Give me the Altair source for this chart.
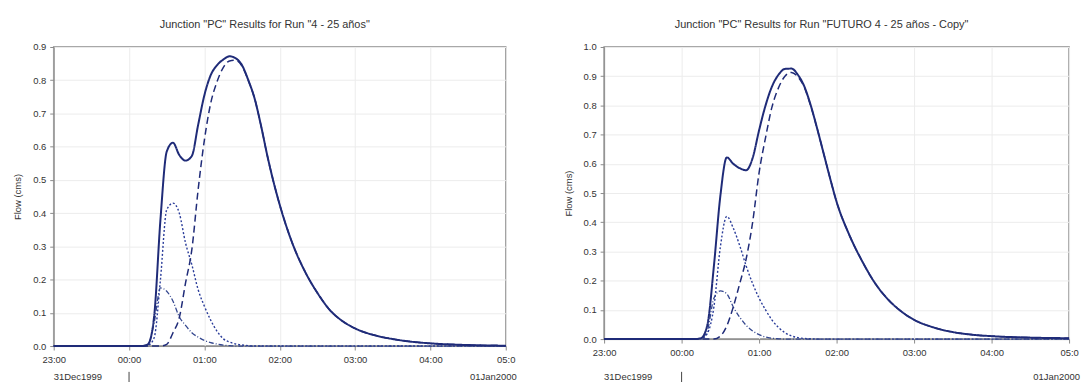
import altair as alt
import pandas as pd

# minutes after 31Dec1999 23:00
MINUTES = [0, 60, 70, 75, 80, 85, 90, 95, 100, 105, 110, 115, 120, 125, 130, 135,
           140, 145, 150, 155, 160, 165, 170, 175, 180, 190, 200, 210, 220, 230,
           240, 255, 270, 285, 300, 330, 360]

# Left chart: Run "4 - 25 años"
L_OUTFLOW = [0, 0, 0, 0.005, 0.09, 0.38, 0.585, 0.612, 0.575, 0.558, 0.572, 0.665,
             0.755, 0.815, 0.845, 0.862, 0.872, 0.866, 0.845, 0.80, 0.745, 0.665,
             0.575, 0.495, 0.425, 0.31, 0.225, 0.16, 0.108, 0.075, 0.053, 0.033,
             0.021, 0.013, 0.008, 0.003, 0.001]
L_SMALL = [0, 0, 0, 0.005, 0.07, 0.175, 0.165, 0.135, 0.088, 0.062, 0.04, 0.027,
           0.017, 0.01, 0.006, 0.003, 0.001, 0, 0, 0, 0, 0, 0, 0, 0, 0, 0, 0, 0,
           0, 0, 0, 0, 0, 0, 0, 0]
L_DOTTED = [0, 0, 0, 0.002, 0.025, 0.2, 0.41, 0.43, 0.40, 0.31, 0.245, 0.17, 0.12,
            0.078, 0.045, 0.022, 0.012, 0.006, 0.003, 0.001, 0, 0, 0, 0, 0, 0, 0,
            0, 0, 0, 0, 0, 0, 0, 0, 0, 0]
L_DASHED = [0, 0, 0, 0, 0, 0, 0.005, 0.04, 0.085, 0.19, 0.29, 0.47, 0.62, 0.73,
            0.795, 0.838, 0.858, 0.86, 0.842, 0.799, 0.745, 0.665, 0.575, 0.495,
            0.425, 0.31, 0.225, 0.16, 0.108, 0.075, 0.053, 0.033, 0.021, 0.013,
            0.008, 0.003, 0.001]

# Right chart: Run "FUTURO 4 - 25 años - Copy"
R_OUTFLOW = [0, 0, 0, 0.003, 0.05, 0.25, 0.49, 0.622, 0.60, 0.585, 0.578, 0.62,
             0.715, 0.80, 0.865, 0.905, 0.925, 0.926, 0.905, 0.865, 0.80, 0.72,
             0.635, 0.55, 0.47, 0.355, 0.265, 0.19, 0.135, 0.095, 0.066, 0.04,
             0.024, 0.015, 0.01, 0.005, 0.003]
R_SMALL = [0, 0, 0, 0.002, 0.03, 0.14, 0.165, 0.155, 0.11, 0.075, 0.047, 0.028,
           0.015, 0.007, 0.003, 0.001, 0, 0, 0, 0, 0, 0, 0, 0, 0, 0, 0, 0, 0, 0,
           0, 0, 0, 0, 0, 0, 0]
R_DOTTED = [0, 0, 0, 0.001, 0.02, 0.11, 0.315, 0.42, 0.38, 0.32, 0.25, 0.19, 0.14,
            0.10, 0.065, 0.04, 0.022, 0.011, 0.005, 0.002, 0.001, 0, 0, 0, 0, 0,
            0, 0, 0, 0, 0, 0, 0, 0, 0, 0, 0]
R_DASHED = [0, 0, 0, 0, 0, 0, 0.01, 0.045, 0.11, 0.19, 0.275, 0.40, 0.57, 0.69,
            0.795, 0.86, 0.90, 0.913, 0.898, 0.862, 0.798, 0.72, 0.635, 0.55, 0.47,
            0.355, 0.265, 0.19, 0.135, 0.095, 0.066, 0.04, 0.024, 0.015, 0.01,
            0.005, 0.003]

L_TITLE = 'Junction "PC" Results for Run "4 - 25 años"'
R_TITLE = 'Junction "PC" Results for Run "FUTURO 4 - 25 años - Copy"'
Y_TITLE = "Flow (cms)"
L_YTICKS = [0.0, 0.1, 0.2, 0.3, 0.4, 0.5, 0.6, 0.7, 0.8, 0.9]
R_YTICKS = [0.0, 0.1, 0.2, 0.3, 0.4, 0.5, 0.6, 0.7, 0.8, 0.9, 1.0]
HOURS = [(1999, 12, 31, 23), (2000, 1, 1, 0), (2000, 1, 1, 1), (2000, 1, 1, 2),
         (2000, 1, 1, 3), (2000, 1, 1, 4), (2000, 1, 1, 5)]
DATE_LABELS = ["31Dec1999", "01Jan2000"]

BASE = pd.Timestamp("1999-12-31 23:00")
FONT = "Liberation Sans"
NAVY = "#1f2b78"


def iso(m):
    return (BASE + pd.Timedelta(minutes=m)).strftime("%Y-%m-%dT%H:%M:%S")


def dt(t):
    return alt.DateTime(year=t[0], month=t[1], date=t[2], hours=t[3])


def panel(title, series, ymax, yticks, width, height, date_dy, rule_dy):
    x_enc = alt.X(
        "time:T",
        scale=alt.Scale(domain=[dt(HOURS[0]), dt(HOURS[-1])]),
        axis=alt.Axis(
            values=[dt(h) for h in HOURS],
            labelExpr="timeFormat(datum.value, '%H:%M') == '05:00' ? '05:0' : timeFormat(datum.value, '%H:%M')",
            title=None, tickSize=4, labelPadding=5, labelFlush=False,
            labelOverlap=False, grid=True,
        ),
    )
    y_enc = alt.Y(
        "flow:Q",
        scale=alt.Scale(domain=[0, ymax], nice=False),
        axis=alt.Axis(values=yticks, format=".1f", title=Y_TITLE, tickSize=4,
                      labelPadding=4, titlePadding=10, grid=True),
    )
    styles = [
        (series[2], [2, 2], 1.4, "#2a3c9a"),   # dotted
        (series[1], [5, 2, 1, 2], 1.3, "#34478f"),  # dash-dot
        (series[3], [7, 4], 1.5, NAVY),  # dashed
        (series[0], [1, 0], 2.0, NAVY),  # solid total
    ]
    layers = []
    for vals, dash, w, col in styles:
        df = pd.DataFrame({"time": [iso(m) for m in MINUTES], "flow": vals})
        layers.append(
            alt.Chart(df).mark_line(strokeDash=dash, strokeWidth=w, color=col,
                                    interpolate="monotone")
            .encode(x=x_enc, y=y_enc)
        )
    dates = pd.DataFrame({"time": [iso(0), iso(360)], "label": DATE_LABELS})
    txt_left = alt.Chart(dates.iloc[[0]]).mark_text(
        align="left", baseline="middle", fontSize=9.5, font=FONT, color="#333"
    ).encode(x=x_enc, y=alt.value(height + date_dy), text="label:N")
    txt_right = alt.Chart(dates.iloc[[1]]).mark_text(
        align="right", baseline="middle", fontSize=9.5, font=FONT, color="#333", dx=11
    ).encode(x=x_enc, y=alt.value(height + date_dy), text="label:N")
    mark_df = pd.DataFrame({"time": [iso(60)]})
    rule = alt.Chart(mark_df).mark_rule(color="#444", strokeWidth=1).encode(
        x=x_enc, y=alt.value(height + rule_dy), y2=alt.value(height + rule_dy + 12)
    )
    return alt.layer(*layers, txt_left, txt_right, rule).properties(
        width=width, height=height,
        title=alt.TitleParams(title, fontSize=11, fontWeight="normal", font=FONT,
                              color="#333", offset=12, anchor="middle", frame="bounds"),
    )


left = panel(L_TITLE, [L_OUTFLOW, L_SMALL, L_DOTTED, L_DASHED], 0.9, L_YTICKS,
             455, 301, 31, 26)
right = panel(R_TITLE, [R_OUTFLOW, R_SMALL, R_DOTTED, R_DASHED], 1.0, R_YTICKS,
              468, 294, 38, 33)

chart = alt.hconcat(left, right, spacing=99, bounds="flush").properties(
    padding={"left": 4, "top": 9, "right": 0, "bottom": 2},
    background="white",
).configure_view(
    stroke="#8a8a8a", strokeWidth=1.5
).configure_axis(
    domainColor="#8a8a8a", tickColor="#8a8a8a", labelColor="#333",
    labelFont=FONT, labelFontSize=9.5, titleFont=FONT, titleFontSize=9.5,
    titleFontWeight="normal", titleColor="#333", gridColor="#ececec",
    gridWidth=1,
)

chart.save("out.html", embed_options={"renderer": "svg", "actions": False})
